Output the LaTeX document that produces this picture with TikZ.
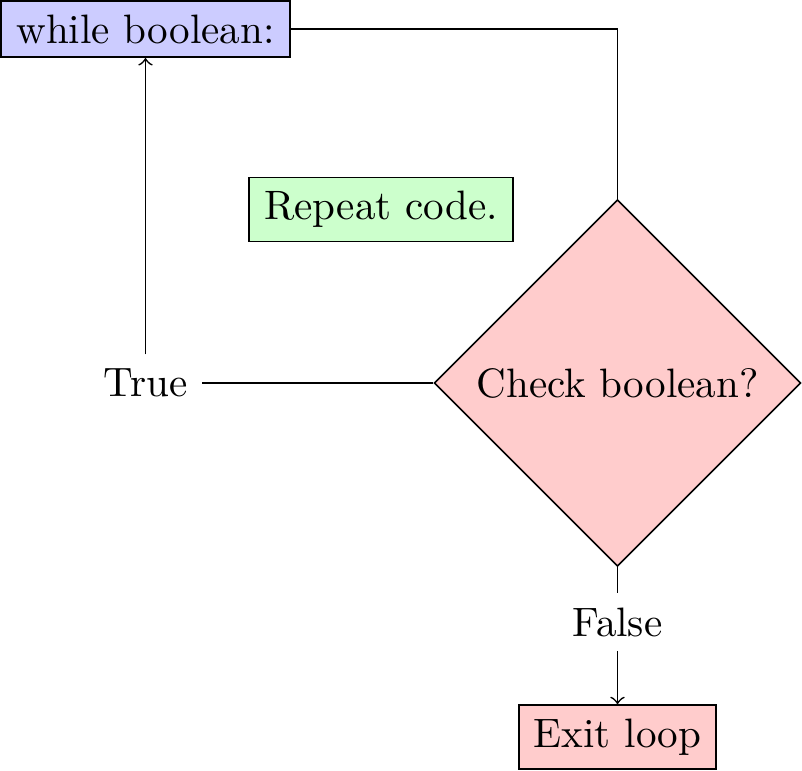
\documentclass[tikz,border=0pt]{standalone}
\usetikzlibrary{shapes.geometric}
\begin{document}
\begin{tikzpicture}[x=0.2433pt,y=-0.2433pt,
  box/.style={draw,rectangle},
  decision/.style={draw,diamond,aspect=1,fill=red!20},
  plain/.style={}]
\useasboundingbox (0,0) rectangle (802,771);
\node[box,fill=blue!20,minimum width=70.4pt] (while) at (145.5,29) {while boolean:};
\node[box,fill=green!20,minimum width=64.3pt] (repeat) at (381,209.5) {Repeat code.};
\node[decision] (check) at (617.5,383) {Check boolean?};
\node[plain] (true) at (145.5,383) {True};
\node[plain] (false) at (617.5,622) {False};
\node[box,fill=red!20,minimum width=47.8pt] (exit) at (617.5,737) {Exit loop};
\draw (while.east) -| (check.north);
\draw (check.west) -- (true.east);
\draw[->] (true.north) -- (while.south);
\draw (check.south) -- (false.north);
\draw[->] (false.south) -- (exit.north);
\end{tikzpicture}
\end{document}
